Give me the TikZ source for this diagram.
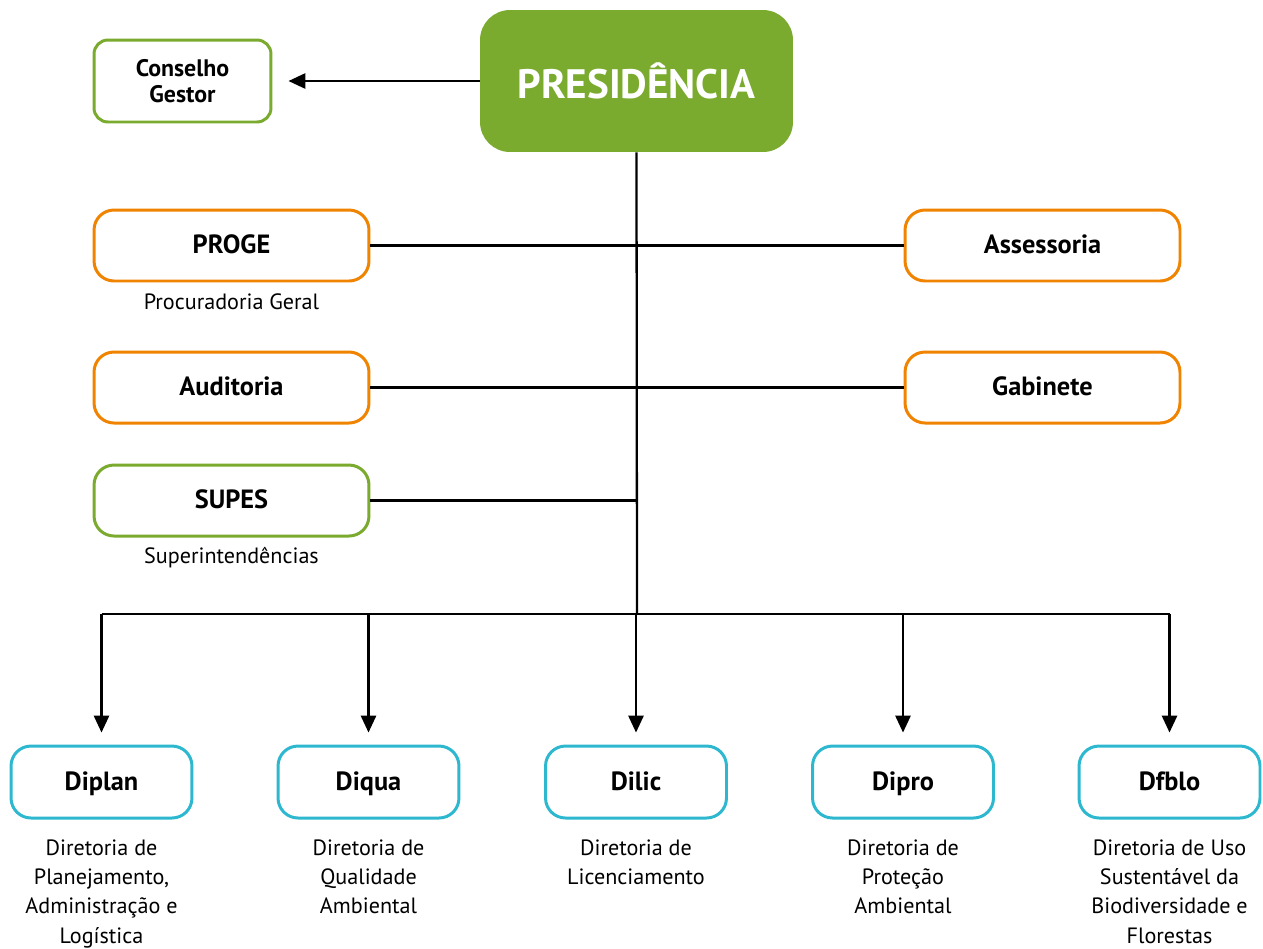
\documentclass[tikz,border=0pt]{standalone}
\usepackage{fontspec}
\setmainfont{PT Sans}
\usetikzlibrary{arrows.meta}
\definecolor{pgreen}{HTML}{7AAB2E}
\definecolor{porange}{HTML}{F08300}
\definecolor{pcyan}{HTML}{2DB8D0}
\tikzset{
  box/.style={draw, line width=1.7pt, rounded corners=0.4cm, fill=white,
    minimum width=5.5cm, minimum height=1.42cm, inner sep=0pt,
    font=\fontsize{15}{17}\selectfont\bfseries},
  sbox/.style={box, text height=2.0ex, text depth=0.1ex},
  obox/.style={sbox, draw=porange},
  gbox/.style={sbox, draw=pgreen},
  cbox/.style={sbox, draw=pcyan, minimum width=3.62cm, minimum height=1.44cm},
  desc/.style={anchor=north, align=center, inner sep=0pt,
    font=\fontsize{12.6}{16.7}\selectfont},
  conn/.style={line width=1.3pt, draw=black},
  arr/.style={conn, -{Triangle[length=9.6pt,width=8.6pt]}},
}
\begin{document}
\begin{tikzpicture}[x=0.02cm,y=-0.02cm]
\useasboundingbox (0,0) rectangle (1263,948);
% top
\node[fill=pgreen, rounded corners=0.6cm, minimum width=6.26cm, minimum height=2.84cm,
  inner sep=0pt, text=white, font=\fontsize{23.4}{26}\selectfont\bfseries] (pres) at (636.5,81) {PRESID\^ENCIA};
\node[box, draw=pgreen, rounded corners=0.28cm, minimum width=3.54cm, minimum height=1.64cm,
  align=center, font=\fontsize{13.6}{14.5}\selectfont\bfseries] (cons) at (182.5,81) {Conselho\\Gestor};
\draw[arr, shorten >=16*0.02cm] (pres.west) -- (cons.east);
% side boxes
\node[obox] (proge) at (231.5,245.5) {PROGE};
\node[obox] (asse) at (1042.5,245.5) {Assessoria};
\node[obox] (audi) at (231.5,387.5) {Auditoria};
\node[obox] (gabi) at (1042.5,387.5) {Gabinete};
\node[gbox] (supes) at (231.5,500.5) {SUPES};
\node[desc] (progedesc) at (231.5,293) {Procuradoria Geral};
\node[desc] (supesdesc) at (231.5,547) {Superintend\^encias};
% bus
\coordinate (bus) at (637,614);
\coordinate (supj) at (637,500.5);
\draw[conn] (pres.south) -- (bus);
\draw[conn] (proge) -- (asse);
\draw[conn] (audi) -- (gabi);
\draw[conn] (supes) -- (supj);
% bottom boxes
\node[cbox] (diplan) at (101.5,782) {Diplan};
\node[cbox] (diqua) at (368.5,782) {Diqua};
\node[cbox] (dilic) at (636,782) {Dilic};
\node[cbox] (dipro) at (903,782) {Dipro};
\node[cbox] (dfblo) at (1169.5,782) {Dfblo};
\draw[conn] (diplan.north |- bus) -- (dfblo.north |- bus);
\foreach \n in {diplan,diqua,dilic,dipro,dfblo}
  \draw[arr, shorten >=12*0.02cm] (\n.north |- bus) -- (\n.north);
\node[desc] (d1) at (101.5,839) {Diretoria de\\Planejamento,\\Administra\c{c}\~ao e\\Log\'istica};
\node[desc] (d2) at (368.5,839) {Diretoria de\\Qualidade\\Ambiental};
\node[desc] (d3) at (636,839) {Diretoria de\\Licenciamento};
\node[desc] (d4) at (903,839) {Diretoria de\\Prote\c{c}\~ao\\Ambiental};
\node[desc] (d5) at (1169.5,839) {Diretoria de Uso\\Sustent\'avel da\\Biodiversidade e\\Florestas};
\end{tikzpicture}
\end{document}
